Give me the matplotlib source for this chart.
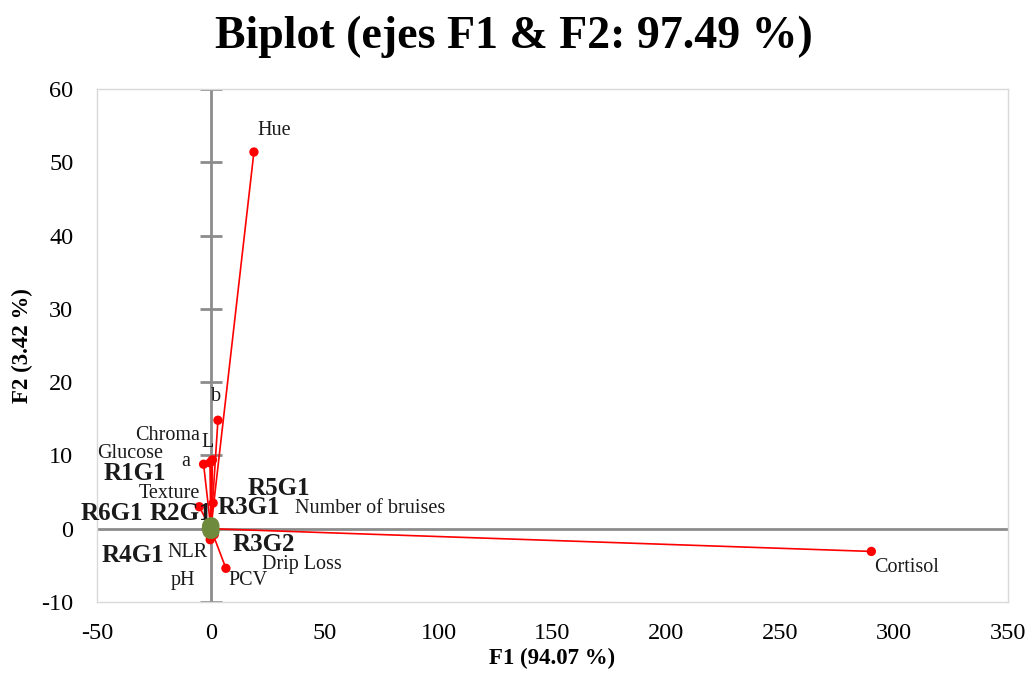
import matplotlib
matplotlib.use("Agg")
import matplotlib.pyplot as plt
import numpy as np

plt.rcParams['font.family'] = ['Liberation Serif', 'DejaVu Serif']
plt.rcParams['axes.unicode_minus'] = False

# Variables (loadings scaled)
var_names = ["Hue", "Cortisol", "b", "Chroma", "L", "Glucose", "a", "Texture",
             "Number of bruises", "NLR", "pH", "Drip Loss", "PCV"]
var_x = [18.9, 290.0, 3.1, 0.3, 0.7, -3.2, -0.4, -5.1, 1.0, -0.5, -0.3, 1.5, 6.6]
var_y = [51.4, -3.1, 14.8, 9.2, 9.4, 8.8, 9.0, 3.0, 3.5, -0.8, -1.5, -0.8, -5.4]
# label offsets in pixels (dx, dy)
var_off = [(20, 22), (35, -16), (-2, 24), (-44, 26), (-5, 17), (-73, 11), (-24, 1),
           (-30, 13), (157, -5), (-22, -18), (-27, -41), (88, -30), (22, -12)]

# Observations
obs_names = ["R1G1", "R2G1", "R3G1", "R3G2", "R4G1", "R5G1", "R6G1"]
obs_x = [-0.4, -0.2, 0.3, 0.4, -0.3, 0.2, -0.5]
obs_y = [0.4, 0.2, 0.3, -0.3, -0.3, 0.5, 0.1]
obs_off = [(-75, 52), (-30, 14), (37, 19), (52, -14), (-77, -25), (67, 37), (-98, 14)]

xticks = np.arange(-50, 351, 50)
yticks = np.arange(-10, 61, 10)

fig = plt.figure(figsize=(10.28, 6.81), dpi=100)
ax = fig.add_axes([97/1028, 1 - 602/681, (1008-97)/1028, (602-89)/681])
ax.set_xlim(-50, 350)
ax.set_ylim(-10, 60)

ax.axhline(0, color='#8c8c8c', lw=2, zorder=1)
ax.axvline(0, color='#8c8c8c', lw=2, zorder=1)
ax.plot(np.zeros(len(yticks)), yticks, ls='none', marker='_', ms=16, mew=2,
        color='#8c8c8c', zorder=1)

for x, y in zip(var_x, var_y):
    ax.plot([0, x], [0, y], color='red', lw=1.2, zorder=2)
ax.scatter(var_x, var_y, s=45, color='red', zorder=3, edgecolors='none')
ax.scatter(obs_x, obs_y, s=130, color='#6e8b3d', zorder=4, edgecolors='none')

for n, x, y, (dx, dy) in zip(var_names, var_x, var_y, var_off):
    ax.annotate(n, (x, y), xytext=(dx, dy), textcoords='offset pixels',
                ha='center', va='center', fontsize=14.5, color='#1a1a1a')
for n, x, y, (dx, dy) in zip(obs_names, obs_x, obs_y, obs_off):
    ax.annotate(n, (x, y), xytext=(dx, dy), textcoords='offset pixels',
                ha='center', va='center', fontsize=18, fontweight='bold', color='#1a1a1a')

ax.set_xticks(xticks)
ax.set_yticks(yticks)
ax.tick_params(length=0, labelsize=17.5)
ax.tick_params(axis='y', pad=17)
ax.tick_params(axis='x', pad=15)
for s in ax.spines.values():
    s.set_color('#d9d9d9')
    s.set_linewidth(1)

ax.set_xlabel("F1 (94.07 %)", fontsize=16.5, fontweight='bold', labelpad=3)
ax.set_ylabel("F2 (3.42 %)", fontsize=16.5, fontweight='bold', labelpad=6)
fig.text(0.5, 1 - 37/681, "Biplot (ejes F1 & F2: 97.49 %)", fontsize=33,
         fontweight='bold', ha='center', va='center')

fig.savefig("out.png", dpi=100)
